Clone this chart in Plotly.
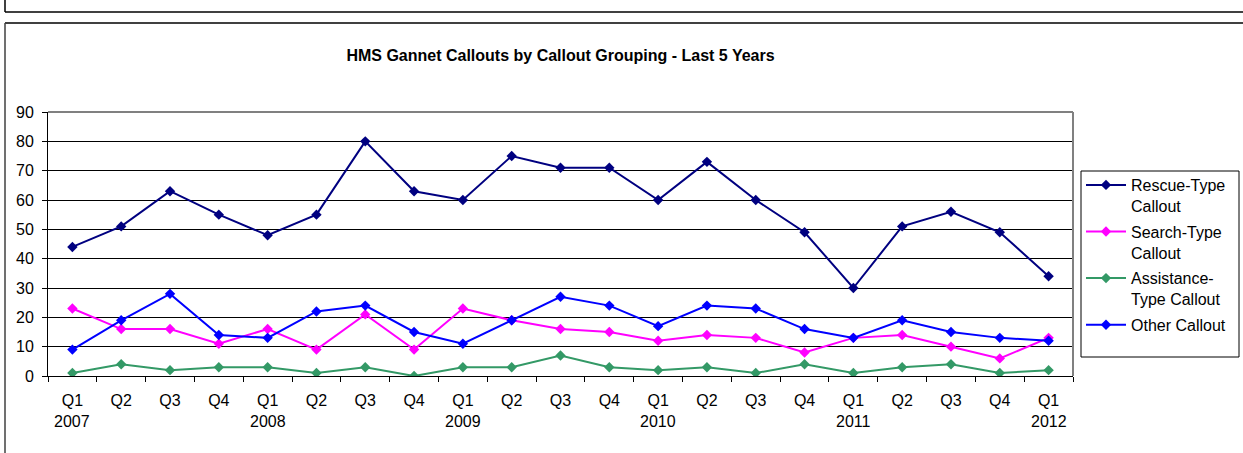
import plotly.graph_objects as go

quarters = ["Q1", "Q2", "Q3", "Q4"] * 5 + ["Q1"]
years = ["2007", "", "", "", "2008", "", "", "", "2009", "", "", "", "2010", "", "", "",
         "2011", "", "", "", "2012"]
categories = [f"{q} {y}" if y else f"{q} #{i}" for i, (q, y) in enumerate(zip(quarters, years))]

rescue = [44, 51, 63, 55, 48, 55, 80, 63, 60, 75, 71, 71, 60, 73, 60, 49, 30, 51, 56, 49, 34]
search = [23, 16, 16, 11, 16, 9, 21, 9, 23, 19, 16, 15, 12, 14, 13, 8, 13, 14, 10, 6, 13]
assistance = [1, 4, 2, 3, 3, 1, 3, 0, 3, 3, 7, 3, 2, 3, 1, 4, 1, 3, 4, 1, 2]
other = [9, 19, 28, 14, 13, 22, 24, 15, 11, 19, 27, 24, 17, 24, 23, 16, 13, 19, 15, 13, 12]

series_names = ["Rescue-Type<br>Callout", "Search-Type<br>Callout",
                "Assistance-<br>Type Callout", "Other Callout"]
series_values = [rescue, search, assistance, other]
series_colors = ["#000080", "#FF00FF", "#339966", "#0000FF"]

W, H = 1243, 453
ML, MR, MT, MB = 48, 170, 112, 77
PW = W - ML - MR
PH = H - MT - MB

def px(x):
    return (x - ML) / PW

def py(y):
    return (H - MB - y) / PH

FONT = "Liberation Sans, Arial, sans-serif"

fig = go.Figure()
for i, (name, vals, col) in enumerate(zip(series_names, series_values, series_colors)):
    fig.add_trace(go.Scatter(
        x=categories, y=vals, name=name, mode="lines+markers",
        legendgroup=f"g{i}",
        line=dict(color=col, width=2),
        marker=dict(symbol="diamond", size=8, color=col),
    ))

annotations = []
for cat, yr in zip(categories, years):
    if yr:
        annotations.append(dict(x=cat, xref="x", y=0, yref="paper", text=yr,
                                showarrow=False, yanchor="middle", yshift=-45,
                                font=dict(family=FONT, size=16, color="black")))

shapes = [
    # outer frame boxes
    dict(type="line", xref="paper", yref="paper", x0=px(5), x1=px(1260), y0=py(12), y1=py(12),
         line=dict(color="black", width=1.5)),
    dict(type="line", xref="paper", yref="paper", x0=px(5), x1=px(5), y0=py(-10), y1=py(12),
         line=dict(color="black", width=1.5)),
    dict(type="line", xref="paper", yref="paper", x0=px(5), x1=px(1260), y0=py(23), y1=py(23),
         line=dict(color="#404040", width=2)),
    dict(type="line", xref="paper", yref="paper", x0=px(5), x1=px(5), y0=py(23), y1=py(470),
         line=dict(color="#404040", width=1.5)),
    # plot-area border (top/right) in gray
    dict(type="line", xref="paper", yref="paper", x0=0, x1=1, y0=1, y1=1,
         line=dict(color="#808080", width=2)),
    dict(type="line", xref="paper", yref="paper", x0=1, x1=1, y0=0, y1=1,
         line=dict(color="#808080", width=2)),
    # legend frame
    dict(type="rect", xref="paper", yref="paper", x0=px(1081), x1=px(1239),
         y0=py(357), y1=py(171), line=dict(color="black", width=1), fillcolor="rgba(0,0,0,0)"),
]

fig.update_layout(
    width=W, height=H,
    margin=dict(l=ML, r=MR, t=MT, b=MB),
    paper_bgcolor="white", plot_bgcolor="white",
    font=dict(family=FONT, size=16, color="black"),
    title=dict(text="<b>HMS Gannet Callouts by Callout Grouping - Last 5 Years</b>",
               x=0.5, xref="paper", xanchor="center",
               y=1 - 55 / H, yref="container", yanchor="middle",
               font=dict(family=FONT, size=16, color="black")),
    xaxis=dict(type="category", categoryorder="array", categoryarray=categories,
               tickmode="array", tickvals=categories, ticktext=quarters,
               tickson="boundaries", ticks="outside", ticklen=5, tickcolor="black",
               showline=True, linecolor="black", linewidth=1,
               showgrid=False, zeroline=False, ticklabelstandoff=10,
               tickfont=dict(family=FONT, size=16, color="black"),
               range=[-0.5, len(categories) - 0.5]),
    yaxis=dict(range=[0, 90], dtick=10, tick0=0, ticks="outside", ticklen=5,
               tickcolor="black", showline=True, linecolor="black", linewidth=1,
               showgrid=True, gridcolor="black", gridwidth=1, zeroline=False,
               ticklabelstandoff=5,
               tickfont=dict(family=FONT, size=16, color="black")),
    legend=dict(x=px(1081), xanchor="left", y=py(168), yanchor="top",
                borderwidth=0, bgcolor="rgba(0,0,0,0)",
                font=dict(family=FONT, size=16, color="black"),
                valign="top", tracegroupgap=2, itemwidth=40,
                entrywidth=104, entrywidthmode="pixels"),
    showlegend=True,
    annotations=annotations,
    shapes=shapes,
)

fig.write_html("out.html", config={"displayModeBar": False},
               post_script="document.body.style.margin='0';")
